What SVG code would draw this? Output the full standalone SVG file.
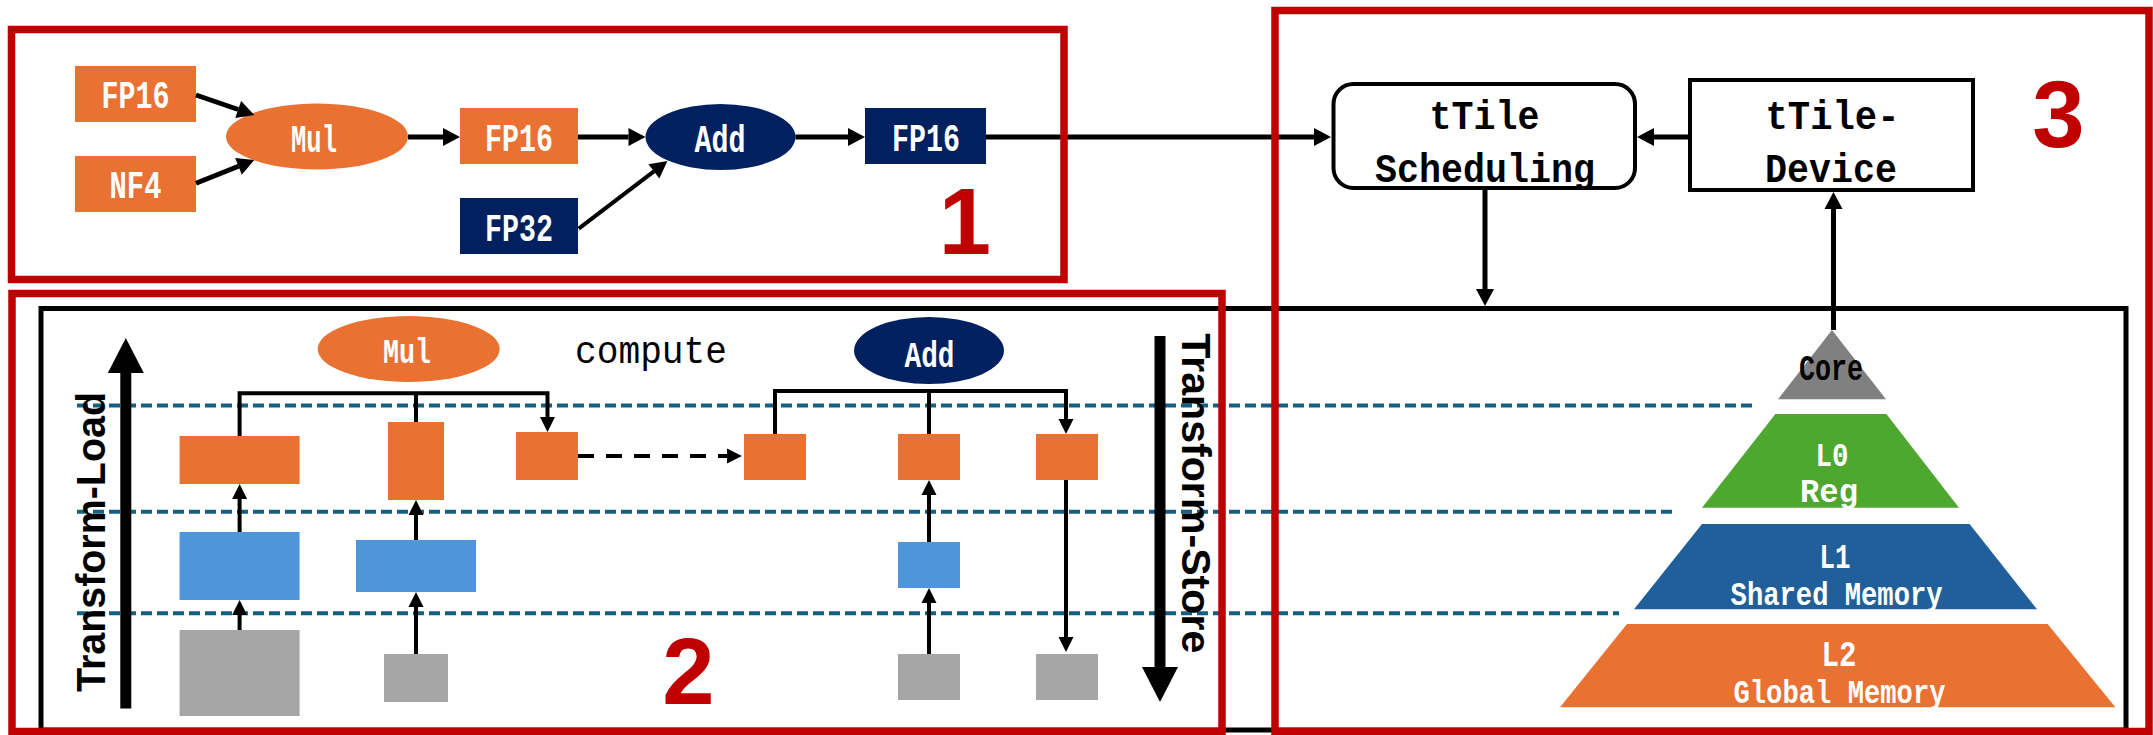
<svg xmlns="http://www.w3.org/2000/svg" width="2153" height="735" viewBox="0 0 2153 735">
  <style>
    .org { fill: #E97132; }
    .nav { fill: #002060; }
    .blu { fill: #4E95D9; }
    .gry { fill: #A6A6A6; }
    .frame { fill: none; stroke: #C00000; stroke-width: 7.5; }
    .lvl { stroke: #156082; stroke-width: 4; stroke-dasharray: 11 5; fill: none; }
    .wire { stroke: #000; fill: none; stroke-linejoin: miter; }
    .w5 { stroke-width: 5; }
    .w4 { stroke-width: 4; }
    .mono { font-family: "Liberation Mono", "DejaVu Sans Mono", monospace; font-weight: bold; text-anchor: middle; }
    .reg { font-weight: normal; }
    .wt { fill: #FFFFFF; }
    .bk { fill: #000000; }
    .side { font-family: "Liberation Sans", Arial, sans-serif; font-weight: bold; font-size: 41px; fill: #000; }
    .num { font-family: "Liberation Sans", Arial, sans-serif; font-weight: bold; font-size: 94px; fill: #C00000; text-anchor: middle; }
  </style>
  <defs>
    <marker id="headL" markerUnits="userSpaceOnUse" markerWidth="17" markerHeight="18" refX="0" refY="9" orient="auto" overflow="visible">
      <path d="M0,0 L17,9 L0,18 z" fill="#000"/>
    </marker>
    <marker id="headS" markerUnits="userSpaceOnUse" markerWidth="15" markerHeight="15" refX="0" refY="7.5" orient="auto" overflow="visible">
      <path d="M0,0 L15,7.5 L0,15 z" fill="#000"/>
    </marker>
    <marker id="headXL" markerUnits="userSpaceOnUse" markerWidth="35" markerHeight="36" refX="0" refY="18" orient="auto" overflow="visible">
      <path d="M0,0 L35,18 L0,36 z" fill="#000"/>
    </marker>
  </defs>

  <rect x="0" y="0" width="2153" height="735" fill="#FFFFFF"/>

  <!-- memory-hierarchy panel outline -->
  <rect id="panel" x="41" y="308.5" width="2085" height="421.5" fill="none" stroke="#000" stroke-width="5"/>

  <!-- level separators -->
  <g id="levels">
    <line class="lvl" x1="77" y1="405.5" x2="1753" y2="405.5"/>
    <line class="lvl" x1="77" y1="511.7" x2="1675" y2="511.7"/>
    <line class="lvl" x1="77" y1="613.3" x2="1619" y2="613.3"/>
  </g>

  <!-- dataflow graph -->
  <g id="in-fp16"><rect class="org" x="75" y="66" width="121" height="56"/><text class="mono wt" x="135.5" y="108.3" font-size="38" textLength="68" lengthAdjust="spacingAndGlyphs">FP16</text></g>
  <g id="in-nf4"><rect class="org" x="75" y="156" width="121" height="56"/><text class="mono wt" x="135.5" y="198.3" font-size="38" textLength="52" lengthAdjust="spacingAndGlyphs">NF4</text></g>
  <g id="op-mul"><ellipse class="org" cx="317" cy="136.5" rx="91" ry="33"/><text class="mono wt" x="314" y="151.7" font-size="38" textLength="46" lengthAdjust="spacingAndGlyphs">Mul</text></g>
  <g id="mid-fp16"><rect class="org" x="460" y="108" width="118" height="56"/><text class="mono wt" x="519" y="150.7" font-size="38" textLength="68" lengthAdjust="spacingAndGlyphs">FP16</text></g>
  <g id="in-fp32"><rect class="nav" x="460" y="198" width="118" height="56"/><text class="mono wt" x="519" y="240.7" font-size="38" textLength="68" lengthAdjust="spacingAndGlyphs">FP32</text></g>
  <g id="op-add"><ellipse class="nav" cx="720.5" cy="137" rx="75" ry="33"/><text class="mono wt" x="720" y="151.7" font-size="38" textLength="51" lengthAdjust="spacingAndGlyphs">Add</text></g>
  <g id="out-fp16"><rect class="nav" x="865" y="108" width="121" height="56"/><text class="mono wt" x="926" y="150.7" font-size="38" textLength="68" lengthAdjust="spacingAndGlyphs">FP16</text></g>

  <!-- tile layout: compute ops -->
  <g id="t-mul"><ellipse class="org" cx="408.7" cy="349" rx="91" ry="33"/><text class="mono wt" x="407" y="363.3" font-size="35" textLength="48" lengthAdjust="spacingAndGlyphs">Mul</text></g>
  <g id="t-compute"><text class="mono reg bk" x="651" y="363" font-size="38" textLength="152" lengthAdjust="spacingAndGlyphs">compute</text></g>
  <g id="t-add"><ellipse class="nav" cx="929" cy="350.5" rx="75" ry="33.5"/><text class="mono wt" x="929.5" y="367.3" font-size="37" textLength="50" lengthAdjust="spacingAndGlyphs">Add</text></g>

  <!-- tiles: register level -->
  <g id="reg-a"><rect class="org" x="179.6" y="436" width="120" height="48"/></g>
  <g id="reg-b"><rect class="org" x="388" y="422" width="56" height="78"/></g>
  <g id="reg-c"><rect class="org" x="516" y="432" width="62" height="48"/></g>
  <g id="reg-d"><rect class="org" x="744" y="434" width="62" height="46"/></g>
  <g id="reg-e"><rect class="org" x="898" y="434" width="62" height="46"/></g>
  <g id="reg-f"><rect class="org" x="1036" y="434" width="62" height="46"/></g>
  <!-- tiles: shared memory level -->
  <g id="smem-a"><rect class="blu" x="179.6" y="532" width="120" height="68"/></g>
  <g id="smem-b"><rect class="blu" x="356" y="540" width="120" height="52"/></g>
  <g id="smem-e"><rect class="blu" x="898" y="542" width="62" height="46"/></g>
  <!-- tiles: global memory level -->
  <g id="gmem-a"><rect class="gry" x="179.6" y="630" width="120" height="86"/></g>
  <g id="gmem-b"><rect class="gry" x="384" y="654" width="64" height="48"/></g>
  <g id="gmem-e"><rect class="gry" x="898" y="654" width="62" height="46"/></g>
  <g id="gmem-f"><rect class="gry" x="1036" y="654" width="62" height="46"/></g>

  <!-- load / store direction labels -->
  <g id="transform-load">
    <text class="side" transform="translate(105,542) rotate(-90)" x="-150" y="0" textLength="300" lengthAdjust="spacingAndGlyphs">Transform-Load</text>
  </g>
  <g id="transform-store">
    <text class="side" transform="translate(1181.7,493.3) rotate(90)" x="-160" y="0" textLength="320" lengthAdjust="spacingAndGlyphs">Transform-Store</text>
  </g>

  <!-- scheduler and device -->
  <g id="sched"><rect x="1333.5" y="84" width="301.5" height="104" rx="20" ry="20" fill="#FFFFFF" stroke="#000" stroke-width="4"/>
    <text class="mono bk" x="1484.5" y="129.3" font-size="40" textLength="110" lengthAdjust="spacingAndGlyphs">tTile</text>
    <text class="mono bk" x="1485" y="181.7" font-size="40" textLength="220" lengthAdjust="spacingAndGlyphs">Scheduling</text></g>
  <g id="device"><rect x="1690" y="80" width="283" height="110" fill="#FFFFFF" stroke="#000" stroke-width="4"/>
    <text class="mono bk" x="1832.5" y="129.3" font-size="40" textLength="134" lengthAdjust="spacingAndGlyphs">tTile-</text>
    <text class="mono bk" x="1831" y="181.7" font-size="40" textLength="132" lengthAdjust="spacingAndGlyphs">Device</text></g>

  <!-- memory pyramid -->
  <g id="core"><polygon points="1832,330 1886,399.3 1778,399.3" fill="#808080"/>
    <text class="mono bk" x="1831" y="380" font-size="37" textLength="64" lengthAdjust="spacingAndGlyphs">Core</text></g>
  <g id="l0"><polygon points="1775.4,414 1886.4,414 1959,507.7 1702,507.7" fill="#4EA72E"/>
    <text class="mono wt" x="1832" y="466" font-size="34" textLength="33" lengthAdjust="spacingAndGlyphs">L0</text>
    <text class="mono wt" x="1829" y="501.7" font-size="33" textLength="58" lengthAdjust="spacingAndGlyphs">Reg</text></g>
  <g id="l1"><polygon points="1702,524 1969.6,524 2037,609.3 1634,609.3" fill="#215F9A"/>
    <text class="mono wt" x="1835" y="568.3" font-size="35" textLength="31" lengthAdjust="spacingAndGlyphs">L1</text>
    <text class="mono wt" x="1836.6" y="605" font-size="34" textLength="212" lengthAdjust="spacingAndGlyphs">Shared Memory</text></g>
  <g id="l2"><polygon points="1627,624 2047.6,624 2115.4,707.3 1560,707.3" fill="#E97132"/>
    <text class="mono wt" x="1839" y="666" font-size="36" textLength="35" lengthAdjust="spacingAndGlyphs">L2</text>
    <text class="mono wt" x="1839.5" y="703.3" font-size="34" textLength="212" lengthAdjust="spacingAndGlyphs">Global Memory</text></g>

  <!-- connectors -->
  <g id="connectors">
    <path class="wire w5" d="M196,95 L238.2,109.5" marker-end="url(#headL)"/>
    <path class="wire w5" d="M196,183.3 L238.5,166.3" marker-end="url(#headL)"/>
    <path class="wire w5" d="M408,137 H443" marker-end="url(#headL)"/>
    <path class="wire w5" d="M578,137 H628.5" marker-end="url(#headL)"/>
    <path class="wire w4" d="M578.7,228.7 L653.9,171.3" marker-end="url(#headL)"/>
    <path class="wire w5" d="M795.5,137 H848" marker-end="url(#headL)"/>
    <path class="wire w5" d="M986,137 H1314" marker-end="url(#headL)"/>
    <path class="wire w5" d="M1688,137 H1654" marker-end="url(#headL)"/>
    <path class="wire w5" d="M1485,188 V289" marker-end="url(#headL)"/>
    <path class="wire w5" d="M1833.5,330 V209" marker-end="url(#headL)"/>

    <path class="wire" stroke-width="11" d="M125.8,708.5 V373" marker-end="url(#headXL)"/>
    <path class="wire" stroke-width="11" d="M1160,336 V667" marker-end="url(#headXL)"/>

    <path class="wire w4" d="M239.6,436 V393.3 H547.5 V417" marker-end="url(#headS)"/>
    <path class="wire w4" d="M416,393.3 V422"/>
    <path class="wire w4" d="M775,434 V391 H1066 V419" marker-end="url(#headS)"/>
    <path class="wire w4" d="M929,391 V434"/>
    <path class="wire w4" d="M578,456 H727" stroke-dasharray="16 12" marker-end="url(#headS)"/>

    <path class="wire w4" d="M239.6,532 V499" marker-end="url(#headS)"/>
    <path class="wire w4" d="M239.6,630 V615" marker-end="url(#headS)"/>
    <path class="wire w4" d="M416,540 V515" marker-end="url(#headS)"/>
    <path class="wire w4" d="M416,654 V607" marker-end="url(#headS)"/>
    <path class="wire w4" d="M929,542 V495" marker-end="url(#headS)"/>
    <path class="wire w4" d="M929,654 V603" marker-end="url(#headS)"/>
    <path class="wire w4" d="M1066,480 V637" marker-end="url(#headS)"/>
  </g>

  <!-- region frames and numbers -->
  <g id="region-1"><rect class="frame" x="11.5" y="29.5" width="1052.5" height="250"/><text class="num" x="965" y="254">1</text></g>
  <g id="region-2"><rect class="frame" x="12" y="293.5" width="1210" height="438"/><text class="num" x="688.5" y="704">2</text></g>
  <g id="region-3"><rect class="frame" x="1275" y="10.5" width="874" height="721"/><text class="num" x="2058.5" y="147">3</text></g>
</svg>
